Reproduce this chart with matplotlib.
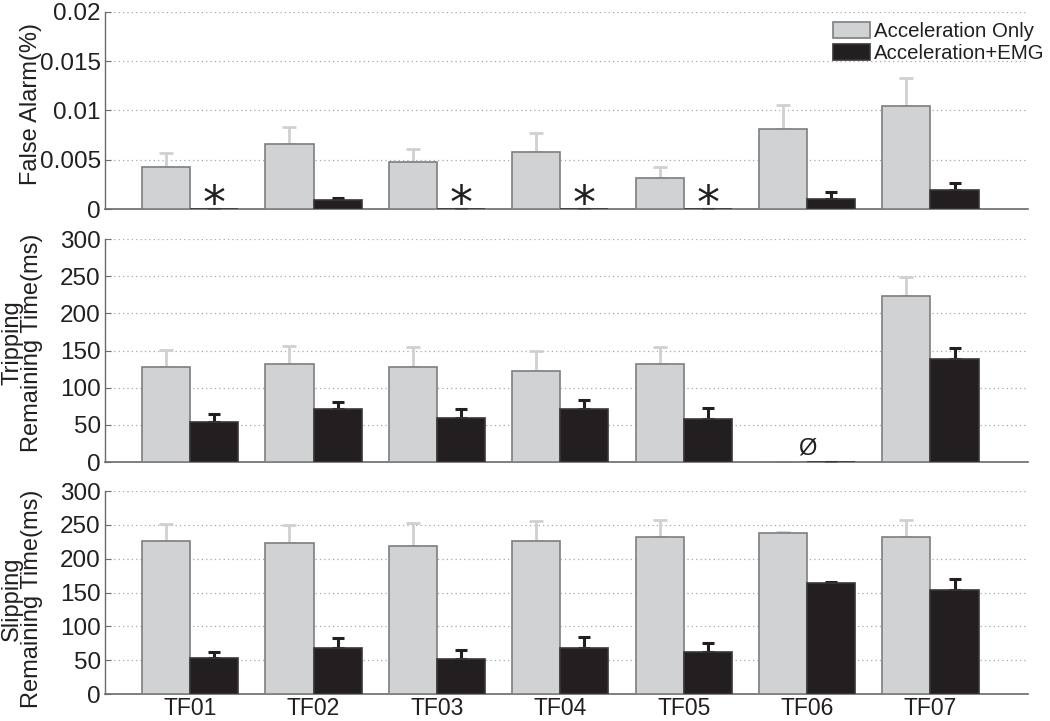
import numpy as np
import matplotlib
matplotlib.use("Agg")
import matplotlib.pyplot as plt

plt.rcParams['font.family'] = ['Liberation Sans', 'DejaVu Sans']

# 受试者
subjects = ['TF01', 'TF02', 'TF03', 'TF04', 'TF05', 'TF06', 'TF07']

# 误报率 (%)
fa_acc = [0.0043, 0.00663, 0.0048, 0.00575, 0.00311, 0.00812, 0.01046]
fa_acc_err = [0.00135, 0.00173, 0.0013, 0.002, 0.00112, 0.00247, 0.00287]
fa_emg = [0.0, 0.00088, 0.0, 0.0, 0.0, 0.00105, 0.0019]
fa_emg_err = [0.0, 0.00027, 0.0, 0.0, 0.0, 0.00064, 0.00077]

# 绊倒剩余时间 (ms)
trip_acc = [128, 132.5, 127.5, 122.6, 132.5, 0, 222.8]
trip_acc_err = [22.4, 23.3, 27.5, 26.4, 22, 0, 25.5]
trip_emg = [53.9, 71.4, 59.3, 71.4, 58.4, 0, 138.3]
trip_emg_err = [11.2, 9.0, 11.7, 12.6, 14.8, 0, 15.3]

# 滑倒剩余时间 (ms)
slip_acc = [226.2, 223.8, 218.4, 226.2, 232.6, 238.5, 232.6]
slip_acc_err = [25.6, 26, 34.9, 29, 25.1, 1.0, 24.1]
slip_emg = [53.6, 68.4, 52.1, 68.4, 62.5, 164.3, 153.9]
slip_emg_err = [8.4, 13.7, 13.3, 15.7, 12.7, 1.4, 16.8]

fa_star = [0, 2, 3, 4]      # EMG 误报为零的受试者
trip_null = [5]             # 无数据

gray_fill, gray_edge, gray_err = '#d1d2d4', '#7d7e80', '#cfd0d2'
black_fill = '#231f20'
txt_color = '#231f20'

fig = plt.figure(figsize=(10.5, 7.21), dpi=100)
left, width = 0.1, 0.879
ax_fa = fig.add_axes([left, 0.7101, width, 0.2733])
ax_trip = fig.add_axes([left, 0.3592, width, 0.3093])
ax_slip = fig.add_axes([left, 0.0374, width, 0.2816])

x = np.arange(1, len(subjects) + 1)
w = 0.39


def draw_panel(ax, acc, acc_err, emg, emg_err, ymax, yticks, ylabels):
    acc = np.array(acc, dtype=float)
    emg = np.array(emg, dtype=float)
    ax.bar(x - w / 2, acc, w, color=gray_fill, edgecolor=gray_edge, linewidth=1.2, zorder=3,
           label='Acceleration Only')
    ax.bar(x + w / 2, emg, w, color=black_fill, edgecolor='#3a3738', linewidth=1.2, zorder=3,
           label='Acceleration+EMG')
    ax.errorbar(x - w / 2, acc, yerr=[np.zeros(len(acc)), acc_err], fmt='none',
                ecolor=gray_err, elinewidth=2, capsize=4.7, capthick=2, zorder=2)
    ax.errorbar(x + w / 2, emg, yerr=[np.zeros(len(emg)), emg_err], fmt='none',
                ecolor=black_fill, elinewidth=2.2, capsize=4.3, capthick=2.2, zorder=2)
    ax.set_xlim(0.31, 7.79)
    ax.set_ylim(0, ymax)
    ax.set_yticks(yticks)
    ax.set_yticklabels(ylabels)
    ax.yaxis.grid(True, linestyle=(0, (1, 2.5)), color='#a8a8a8', linewidth=0.9, zorder=0)
    ax.set_axisbelow(True)
    for s in ['top', 'right']:
        ax.spines[s].set_visible(False)
    ax.spines['left'].set_color('#6a6a6a')
    ax.spines['bottom'].set_color('#6a6a6a')
    ax.spines['left'].set_linewidth(1.0)
    ax.spines['bottom'].set_linewidth(1.2)
    ax.tick_params(axis='y', direction='in', length=4, color='#6a6a6a', labelsize=17.5, pad=3,
                   labelcolor=txt_color)
    ax.tick_params(axis='x', length=0, labelsize=16.5, pad=2, labelcolor=txt_color)


draw_panel(ax_fa, fa_acc, fa_acc_err, fa_emg, fa_emg_err, 0.02,
           [0, 0.005, 0.01, 0.015, 0.02], ['0', '0.005', '0.01', '0.015', '0.02'])
draw_panel(ax_trip, trip_acc, trip_acc_err, trip_emg, trip_emg_err, 300,
           [0, 50, 100, 150, 200, 250, 300], ['0', '50', '100', '150', '200', '250', '300'])
draw_panel(ax_slip, slip_acc, slip_acc_err, slip_emg, slip_emg_err, 300,
           [0, 50, 100, 150, 200, 250, 300], ['0', '50', '100', '150', '200', '250', '300'])

ax_fa.set_xticks(x)
ax_fa.set_xticklabels([])
ax_trip.set_xticks(x)
ax_trip.set_xticklabels([])
ax_slip.set_xticks(x)
ax_slip.set_xticklabels(subjects)

# 星号：EMG 误报为零
for i in fa_star:
    ax_fa.text(x[i] + w / 2, -0.00095, '*', fontsize=33, ha='center', va='baseline',
               color=txt_color, family='DejaVu Sans', zorder=6)
for i in trip_null:
    ax_trip.text(x[i], 4, 'Ø', fontsize=17, ha='center', va='bottom', color=txt_color)

lab_kw = dict(rotation=90, ha='center', va='center', fontsize=17, color=txt_color,
              multialignment='center', linespacing=0.85)
ax_fa.text(-0.080, 0.535, 'False Alarm(%)', transform=ax_fa.transAxes, **lab_kw)
ax_trip.text(-0.090, 0.536, 'Tripping\nRemaining Time(ms)', transform=ax_trip.transAxes, **lab_kw)
ax_slip.text(-0.090, 0.47, 'Slipping\nRemaining Time(ms)', transform=ax_slip.transAxes, **lab_kw)

leg = ax_fa.legend(loc='upper left', bbox_to_anchor=(833 / 1050, 1 - 22 / 721),
                   bbox_transform=fig.transFigure, frameon=False, fontsize=14.7,
                   handlelength=1.8, handleheight=0.85, handletextpad=0.2,
                   labelspacing=0.12, borderpad=0, borderaxespad=0)
for t in leg.get_texts():
    t.set_color(txt_color)

fig.savefig('out.png', dpi=100)
